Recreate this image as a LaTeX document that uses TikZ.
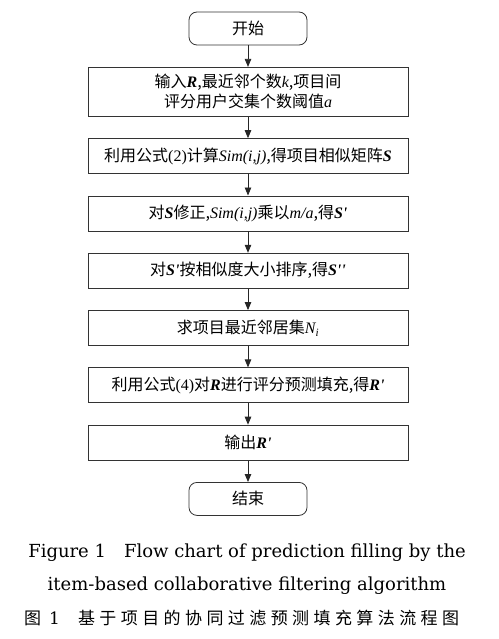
\documentclass[tikz,border=0pt]{standalone}
\usepackage{fontspec}
\setmainfont{Liberation Serif}
\newfontfamily\cjk{Noto Sans CJK SC}
\newfontfamily\cjkcap[LetterSpace=26]{Noto Sans CJK SC}
\newfontfamily\capfont{DejaVu Serif}
\usetikzlibrary{positioning,arrows.meta}
\newcommand\bitx[1]{{\rmfamily\bfseries\itshape #1}}
\newcommand\itx[1]{{\rmfamily\itshape #1}}
\newcommand\rmx[1]{{\rmfamily #1}}
\newcommand\pr{\textquotesingle}
\tikzset{
	flow/.style={>={Triangle[length=8pt,width=6.5pt]},node distance=21.5pt,x=1pt,y=-1pt},
	stepbox/.style={rectangle,draw=black!80,line width=0.8pt,minimum width=320pt,minimum height=35pt,
		align=center,font=\cjk\fontsize{16}{20}\selectfont},
	terminal/.style={stepbox,rounded corners=8pt,minimum width=118pt,minimum height=33pt},
	link/.style={->,draw=black!85,line width=0.8pt},
	caption/.style={anchor=base,font=\capfont\fontsize{18}{20}\selectfont}
}

\begin{document}
\begin{tikzpicture}[flow]
	\useasboundingbox (0,0) rectangle (498,639);
	
	\node[terminal] (start) at (248,28.5) {开始};
	\node[stepbox,minimum height=49pt] (input) [below=of start] {输入\bitx{R},最近邻个数\itx{k},项目间\\评分用户交集个数阈值\itx{a}};
	\node[stepbox] (simcalc) [below=of input] {利用公式\rmx{(2)}计算\itx{Sim(i,j)},得项目相似矩阵\bitx{S}};
	\node[stepbox] (fix) [below=of simcalc] {对\bitx{S}修正,\itx{Sim(i,j)}乘以\itx{m/a},得\bitx{S\pr}};
	\node[stepbox] (sorting) [below=of fix] {对\bitx{S\pr}按相似度大小排序,得\bitx{S\pr\pr}};
	\node[stepbox] (neighbors) [below=of sorting] {求项目最近邻居集\itx{N\textsubscript{i}}};
	\node[stepbox] (filling) [below=of neighbors] {利用公式\rmx{(4)}对\bitx{R}进行评分预测填充,得\bitx{R\pr}};
	\node[stepbox] (output) [below=of filling] {输出\bitx{R\pr}};
	\node[terminal] (stop) [below=of output] {结束};
	
	\foreach \a/\b in {start/input,input/simcalc,simcalc/fix,fix/sorting,sorting/neighbors,neighbors/filling,filling/output,output/stop}
		\draw[link] (\a) -- (\b);
	
	% caption
	\node[caption] (capen) at (247,557) {Figure 1\quad Flow chart of prediction filling by the};
	\node[caption] (capentwo) at (247,590) {item-based collaborative filtering algorithm};
	\node[anchor=base west,inner sep=0pt,font=\cjkcap\fontsize{17}{20}\selectfont] (capzh) at (24,624) {图\hspace{8pt}{\capfont 1}\hspace{18pt}基于项目的协同过滤预测填充算法流程图};
\end{tikzpicture}
\end{document}
